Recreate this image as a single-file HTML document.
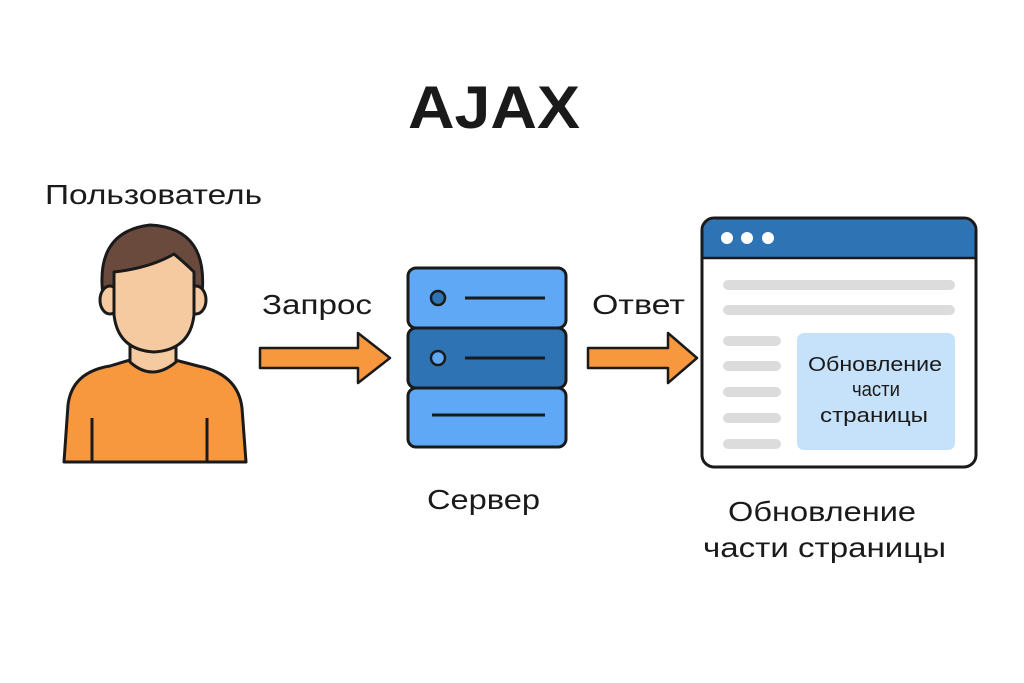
<!DOCTYPE html>
<html><head><meta charset="utf-8"><style>
html,body{margin:0;padding:0;background:#fff}
svg{display:block}
text{font-family:"Liberation Sans","DejaVu Sans",sans-serif;fill:#1a1a1a}
</style></head><body>
<svg width="1024" height="683" viewBox="0 0 1024 683" xmlns="http://www.w3.org/2000/svg">
<rect width="1024" height="683" fill="#fff"/>
<text x="408" y="128" font-size="60" font-weight="bold" textLength="172" lengthAdjust="spacingAndGlyphs">AJAX</text>
<text x="45" y="204" font-size="28" textLength="217" lengthAdjust="spacingAndGlyphs">Пользователь</text>

<!-- person -->
<g stroke="#1a1a1a" stroke-width="3" stroke-linejoin="round">
<path d="M64 462 L68 405 Q72 372 110 366 L130 360 L175 360 L198 366 Q238 374 242 408 L246 462 Z" fill="#f7983e"/>
<path d="M130 335 L130 362 Q152 382 176 362 L176 335 Z" fill="#f5caa0"/>
<path d="M104 302 Q92 232 150 225 Q212 228 201 302 Z" fill="#6b4a3e"/>
<ellipse cx="110" cy="300" rx="10" ry="14" fill="#f5caa0"/>
<ellipse cx="196" cy="300" rx="10" ry="14" fill="#f5caa0"/>
<path d="M114 272 Q150 268 174 254 Q186 264 194 272 L194 315 Q190 350 154 352 Q118 350 114 315 Z" fill="#f5caa0"/>
<path d="M92 418 V462 M207 418 V462" fill="none"/>
</g>

<!-- arrows -->
<text x="262" y="314" font-size="28" textLength="110" lengthAdjust="spacingAndGlyphs">Запрос</text>
<path d="M260 348 H358 V333 L390 358 L358 383 V368 H260 Z" fill="#f7983e" stroke="#1a1a1a" stroke-width="2.5" stroke-linejoin="round"/>
<text x="592" y="314" font-size="28" textLength="93" lengthAdjust="spacingAndGlyphs">Ответ</text>
<path d="M588 348 H668 V333 L697 358 L668 383 V368 H588 Z" fill="#f7983e" stroke="#1a1a1a" stroke-width="2.5" stroke-linejoin="round"/>

<!-- server -->
<g stroke="#1a1a1a" stroke-width="3">
<rect x="408" y="268" width="158" height="60" rx="8" fill="#5ea8f5"/>
<rect x="408" y="328" width="158" height="60" rx="8" fill="#2e74b5"/>
<rect x="408" y="388" width="158" height="59" rx="8" fill="#5ea8f5"/>
<circle cx="438" cy="298" r="7" fill="#2e74b5" stroke-width="2.5"/>
<circle cx="438" cy="358" r="7" fill="#5ea8f5" stroke-width="2.5"/>
<path d="M465 298 H545 M465 358 H545 M432 415 H545" fill="none"/>
</g>
<text x="427" y="509" font-size="28" textLength="113" lengthAdjust="spacingAndGlyphs">Сервер</text>

<!-- browser -->
<path d="M703.5 258 V231 Q703.5 219.5 715 219.5 H963 Q974.5 219.5 974.5 231 V258 Z" fill="#2e74b5"/>
<line x1="703" y1="258" x2="975" y2="258" stroke="#1a1a1a" stroke-width="2.5"/>
<rect x="702" y="218" width="274" height="249" rx="12" fill="none" stroke="#1a1a1a" stroke-width="3"/>
<circle cx="727" cy="238" r="6" fill="#fff"/>
<circle cx="747" cy="238" r="6" fill="#fff"/>
<circle cx="768" cy="238" r="6" fill="#fff"/>
<g stroke="#dcdcdc" stroke-width="10" stroke-linecap="round">
<path d="M728 285 H950 M728 310 H950"/>
<path d="M728 341 H776 M728 366 H776 M728 392 H776 M728 418 H776 M728 444 H776"/>
</g>
<rect x="797" y="333" width="158" height="117" rx="7" fill="#c6e2fb"/>
<text x="808" y="371" font-size="20" textLength="134" lengthAdjust="spacingAndGlyphs">Обновление</text>
<text x="852" y="396" font-size="20" textLength="48" lengthAdjust="spacingAndGlyphs">части</text>
<text x="820" y="422" font-size="20" textLength="108" lengthAdjust="spacingAndGlyphs">страницы</text>
<text x="728" y="521" font-size="28" textLength="188" lengthAdjust="spacingAndGlyphs">Обновление</text>
<text x="703" y="557" font-size="28" textLength="243" lengthAdjust="spacingAndGlyphs">части страницы</text>
</svg>
</body></html>
